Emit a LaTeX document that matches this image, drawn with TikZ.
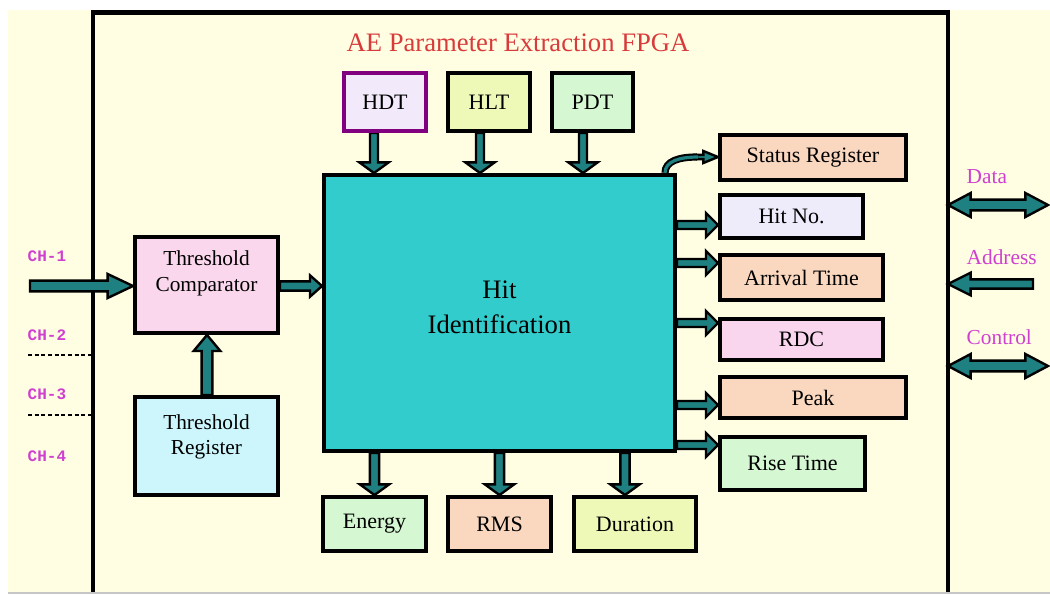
\documentclass[tikz,border=0pt]{standalone}
\usepackage{fontspec}
\setmainfont{Liberation Serif}
\setmonofont{Liberation Mono}
\usetikzlibrary{calc}
\pgfdeclarelayer{bg}
\pgfdeclarelayer{arr}
\pgfsetlayers{bg,arr,main}
\definecolor{cream}{HTML}{FFFDE2}
\definecolor{arrteal}{HTML}{1E8080}
\definecolor{cTeal}{HTML}{33CCCC}
\definecolor{cLav}{HTML}{F2EAFB}
\definecolor{cLavB}{HTML}{EEEBFB}
\definecolor{cYG}{HTML}{EEF9B8}
\definecolor{cMint}{HTML}{D5F8D2}
\definecolor{cPink}{HTML}{FAD7EC}
\definecolor{cPinkB}{HTML}{FAD5EE}
\definecolor{cCyan}{HTML}{CCF6FB}
\definecolor{cPeach}{HTML}{FAD8C0}
\definecolor{cPurp}{HTML}{800080}
\definecolor{cRed}{HTML}{D83B3B}
\definecolor{cMag}{HTML}{D040D0}
\tikzset{
  arrowbody/.style={draw=black, fill=arrteal, line width=1.8pt, line join=miter, miter limit=6},
  fatarr/.style n args={3}{arrowbody, to path={let \p1=(\tikztostart), \p2=(\tikztotarget), \n1={atan2(\y2-\y1,\x2-\x1)} in
    ($(\p1)+({\n1+90}:#1)$) -- ($(\p2)+({\n1+180}:#3)+({\n1+90}:#1)$) -- ($(\p2)+({\n1+180}:#3)+({\n1+90}:#2)$) -- (\p2)
    -- ($(\p2)+({\n1+180}:#3)+({\n1-90}:#2)$) -- ($(\p2)+({\n1+180}:#3)+({\n1-90}:#1)$) -- ($(\p1)+({\n1-90}:#1)$) -- cycle}},
  fatboth/.style n args={3}{arrowbody, to path={let \p1=(\tikztostart), \p2=(\tikztotarget), \n1={atan2(\y2-\y1,\x2-\x1)} in
    (\p1) -- ($(\p1)+({\n1}:#3)+({\n1+90}:#2)$) -- ($(\p1)+({\n1}:#3)+({\n1+90}:#1)$)
    -- ($(\p2)+({\n1+180}:#3)+({\n1+90}:#1)$) -- ($(\p2)+({\n1+180}:#3)+({\n1+90}:#2)$) -- (\p2)
    -- ($(\p2)+({\n1+180}:#3)+({\n1-90}:#2)$) -- ($(\p2)+({\n1+180}:#3)+({\n1-90}:#1)$)
    -- ($(\p1)+({\n1}:#3)+({\n1-90}:#1)$) -- ($(\p1)+({\n1}:#3)+({\n1-90}:#2)$) -- cycle}},
  box/.style={draw=black, line width=3pt, inner sep=0pt, align=center, font=\fontsize{16.5}{20}\selectfont},
  wh/.style 2 args={minimum width=#1*0.75pt, minimum height=#2*0.75pt},
  chlab/.style={anchor=west, text=cMag, font=\ttfamily\bfseries\fontsize{12}{14}\selectfont},
  buslab/.style={anchor=west, text=cMag, font=\fontsize{16}{18}\selectfont},
  dotline/.style={line width=1.9pt, dash pattern=on 3pt off 2pt},
}
\begin{document}
\begin{tikzpicture}[x=0.75pt,y=-0.75pt]
\useasboundingbox (0,0) rectangle (1050,594);
\begin{pgfonlayer}{bg}
  \fill[white] (0,0) rectangle (1050,594);
  \fill[cream] (8,10) rectangle (1050,592);
  \draw[gray!45, line width=1pt] (8,593) -- (1050,593);
  \draw[line width=3.2pt, line join=miter] (93,592) -- (93,12.5) -- (948,12.5) -- (948,592);
\end{pgfonlayer}

% title
\node[font=\fontsize{20}{24}\selectfont, text=cRed] (title) at (518,43) {AE Parameter Extraction FPGA};

% top boxes
\node[box, draw=cPurp, fill=cLav, wh={82}{58}] (hdt) at (385,102) {HDT};
\node[box, fill=cYG, wh={82}{58}] (hlt) at (489,102) {HLT};
\node[box, fill=cMint, wh={81}{58}] (pdt) at (592.5,102) {PDT};

% central block
\node[box, fill=cTeal, wh={351}{276}, font=\fontsize{20}{26}\selectfont, text height=40pt, text depth=10pt] (hit) at (499.5,313) {Hit\\Identification};

% threshold blocks
\node[box, fill=cPink, wh={143}{96}, font=\fontsize{16}{20}\selectfont, text height=22pt, text depth=12pt] (tc) at (206.5,285) {Threshold\\Comparator};
\node[box, fill=cCyan, wh={143}{98}, font=\fontsize{16}{18.75}\selectfont, text height=24pt, text depth=11.4pt] (tr) at (206.5,446) {Threshold\\Register};

% right boxes
\node[box, fill=cPeach, wh={186}{45}] (status) at (813,157.5) {Status Register};
\node[box, fill=cLavB, wh={143}{43}] (hitno) at (791.5,216.5) {Hit No.};
\node[box, fill=cPeach, wh={163}{45}] (arrival) at (801.5,277.5) {Arrival Time};
\node[box, fill=cPinkB, wh={163}{41}] (rdc) at (801.5,339.5) {RDC};
\node[box, fill=cPeach, wh={186}{41}] (peak) at (813,397.5) {Peak};
\node[box, fill=cMint, wh={145}{53}] (rise) at (792.5,463.5) {Rise Time};

% bottom boxes
\node[box, fill=cMint, wh={103}{54}] (energy) at (374.5,524) {Energy};
\node[box, fill=cPeach, wh={103}{54}] (rms) at (499.5,524) {RMS};
\node[box, fill=cYG, wh={122}{54}] (duration) at (635,524) {Duration};

% channel labels
\node[chlab] (ch1t) at (23,256) {CH-1};
\node[chlab] (ch2t) at (23,335) {CH-2};
\node[chlab] (ch3t) at (23,394) {CH-3};
\node[chlab] (ch4t) at (23,456) {CH-4};

% bus labels
\node[buslab] (datat) at (962,177) {Data};
\node[buslab] (addrt) at (962,257) {Address};
\node[buslab] (ctrlt) at (962,337) {Control};

% coordinates
\coordinate (ch1) at (30,286);
\coordinate (ch2a) at (28,355);
\coordinate (ch2b) at (92,355);
\coordinate (ch3a) at (28,415);
\coordinate (ch3b) at (92,415);
\coordinate (dL) at (948,205);
\coordinate (dR) at (1048,205);
\coordinate (aR) at (1033,284);
\coordinate (aL) at (948,284);
\coordinate (cL) at (948,366);
\coordinate (cR) at (1048,366);
\coordinate (c0) at ($(hit.north east)+(-12,0)$);
\coordinate (sr1) at (697,157);

\draw[dotline] (ch2a) -- (ch2b);
\draw[dotline] (ch3a) -- (ch3b);

\begin{pgfonlayer}{arr}
  % into hit
  \draw[fatarr={3pt}{11pt}{8pt}] ($(hdt.south)+(-11,0)$) to ($(hit.north -| hdt.south)+(-11,0)$);
  \draw[fatarr={3pt}{11pt}{8pt}] ($(hlt.south)+(-9,0)$) to ($(hit.north -| hlt.south)+(-9,0)$);
  \draw[fatarr={3pt}{11pt}{8pt}] ($(pdt.south)+(-9.5,0)$) to ($(hit.north -| pdt.south)+(-9.5,0)$);
  % bottom outputs
  \draw[fatarr={3.5pt}{11pt}{8pt}] (hit.south -| energy.north) to (energy.north);
  \draw[fatarr={3.5pt}{11pt}{8pt}] (hit.south -| rms.north) to (rms.north);
  \draw[fatarr={3.5pt}{11pt}{8pt}] ($(hit.south -| duration.north)+(-10,0)$) to ($(duration.north)+(-10,0)$);
  % right outputs
  \draw[fatarr={3pt}{9pt}{9pt}] (hit.east |- 0,225) to (hitno.west |- 0,225);
  \draw[fatarr={3pt}{9pt}{9pt}] (hit.east |- 0,263) to (arrival.west |- 0,263);
  \draw[fatarr={3pt}{9pt}{9pt}] (hit.east |- 0,323) to (rdc.west |- 0,323);
  \draw[fatarr={3pt}{9pt}{9pt}] (hit.east |- 0,405) to (peak.west |- 0,405);
  \draw[fatarr={3pt}{9pt}{9pt}] (hit.east |- 0,445) to (rise.west |- 0,445);
  % status curved arrow
  \draw[black, line width=5.4pt] (c0) .. controls +(0,-12) and +(-18,0) .. (sr1);
  \draw[fatarr={1.6pt}{4.5pt}{11pt}] (sr1) to (status.west |- sr1);
  \draw[arrteal, line width=2.4pt] (c0) .. controls +(0,-12) and +(-18,0) .. ($(sr1)+(1,0)$);
  % threshold path
  \draw[fatarr={4pt}{9pt}{19pt}] (ch1) to (ch1 -| tc.west);
  \draw[fatarr={3.5pt}{8pt}{9pt}] (tc.east |- 0,286) to (hit.west |- 0,286);
  \draw[fatarr={4pt}{10pt}{12pt}] (tr.north -| 207,0) to (tc.south -| 207,0);
  % bus arrows
  \draw[fatboth={4pt}{9pt}{17pt}] (dL) to (dR);
  \draw[fatarr={3.5pt}{8.5pt}{17pt}] (aR) to (aL);
  \draw[fatboth={4pt}{9pt}{17pt}] (cL) to (cR);
\end{pgfonlayer}
\end{tikzpicture}
\end{document}
